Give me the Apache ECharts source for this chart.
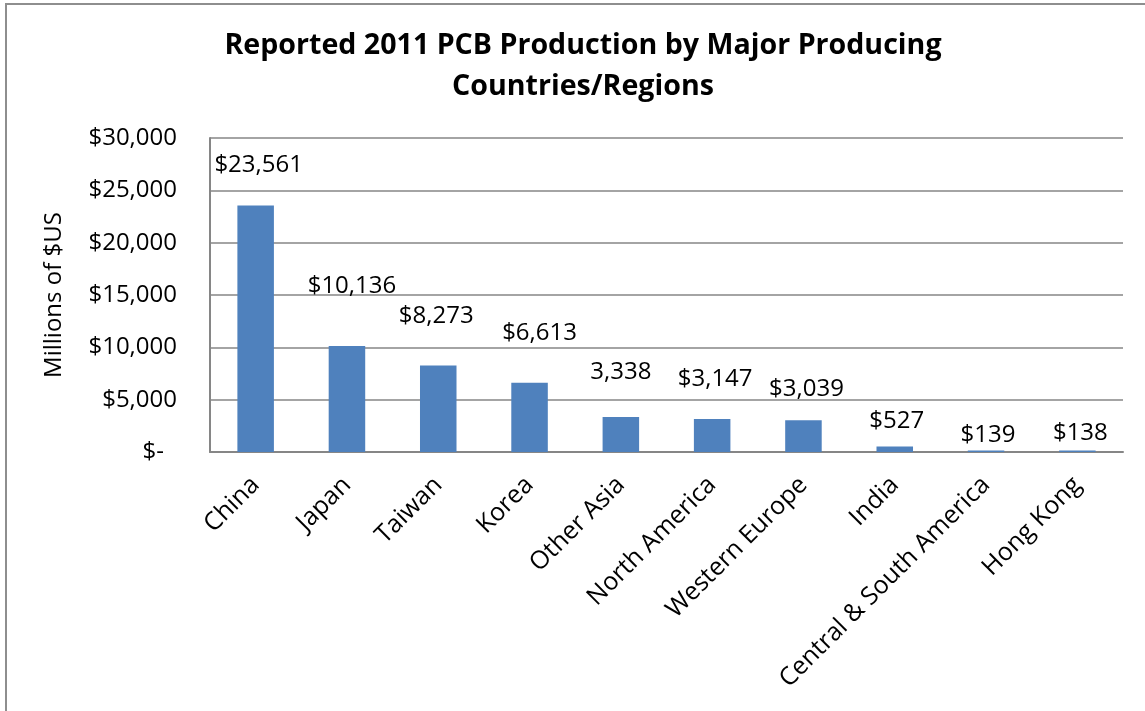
<!DOCTYPE html>
<html>
<head>
<meta charset="utf-8">
<title>Reported 2011 PCB Production</title>
<script src="https://cdn.jsdelivr.net/npm/echarts@6/dist/echarts.min.js"></script>
<style>
  html, body { margin: 0; padding: 0; background: #fff; }
  #frame {
    position: absolute; left: 5px; top: 3px;
    width: 1200px; height: 800px;
    border-left: 2px solid #8e8e8e; border-top: 2px solid #8e8e8e;
  }
  #chart { position: absolute; left: 0; top: 0; width: 1145px; height: 711px; }
</style>
</head>
<body>
<div id="frame"></div>
<div id="chart"></div>
<script>
const categories = ["China", "Japan", "Taiwan", "Korea", "Other Asia", "North America",
  "Western Europe", "India", "Central & South America", "Hong Kong"];
const production = [23561, 10136, 8273, 6613, 3338, 3147, 3039, 527, 139, 138];
// the "Other Asia" label has no $ in the original
const valueLabels = ["$23,561", "$10,136", "$8,273", "$6,613", "3,338", "$3,147",
  "$3,039", "$527", "$139", "$138"];
const yTicks = { 0: "$-", 5000: "$5,000", 10000: "$10,000", 15000: "$15,000",
  20000: "$20,000", 25000: "$25,000", 30000: "$30,000" };

// labels were dragged by hand in the source chart: lift above bar top, sideways nudge
const labelLift = [40, 60, 49, 50, 45, 40, 31, 25, 15, 17];
const labelNudge = [3, 5, -2, 10, 0, 3, 3, 2, 2, 3];

const FONT = "Open Sans";
const FS = 24;
const chart = echarts.init(document.getElementById("chart"));

const option = {
  animation: false,
  title: {
    text: "Reported 2011 PCB Production by Major Producing\nCountries/Regions",
    left: 578,
    top: 20,
    textAlign: "center",
    textStyle: { fontFamily: FONT, fontSize: 28.6, fontWeight: "bold", color: "#000", lineHeight: 41 }
  },
  grid: { left: 210, top: 138, right: 22, bottom: 259 },
  xAxis: {
    type: "category",
    data: categories,
    axisLine: { lineStyle: { color: "#868686", width: 2 } },
    axisTick: { show: false },
    axisLabel: {
      interval: 0, rotate: 45, margin: 29,
      fontFamily: FONT, fontSize: 25, color: "#000"
    }
  },
  yAxis: {
    type: "value",
    min: 0, max: 30000, interval: 5000,
    name: "Millions of $US",
    nameLocation: "middle",
    nameGap: 144,
    nameTextStyle: { fontFamily: FONT, fontSize: FS, color: "#000" },
    axisLine: { show: true, lineStyle: { color: "#868686", width: 2 } },
    axisTick: { show: false },
    splitLine: { lineStyle: { color: "#868686", width: 1.5 } },
    axisLabel: {
      margin: 33, fontFamily: FONT, fontSize: FS, color: "#000",
      formatter: function (v) { return v === 0 ? "{z|$-}" : yTicks[v]; },
      rich: { z: { fontFamily: FONT, fontSize: FS, color: "#000", padding: [0, 13, 0, 0] } }
    }
  },
  series: [{
    type: "bar",
    barWidth: "40%",
    itemStyle: { color: "#4F81BD" },
    data: production.map(function (v, i) {
      return {
        value: v,
        label: {
          show: true,
          position: ["50%", -labelLift[i]],
          align: "center",
          verticalAlign: "middle",
          offset: [labelNudge[i], 0],
          formatter: valueLabels[i],
          fontFamily: FONT, fontSize: FS, color: "#000"
        }
      };
    })
  }]
};

chart.setOption(option);
</script>
</body>
</html>
